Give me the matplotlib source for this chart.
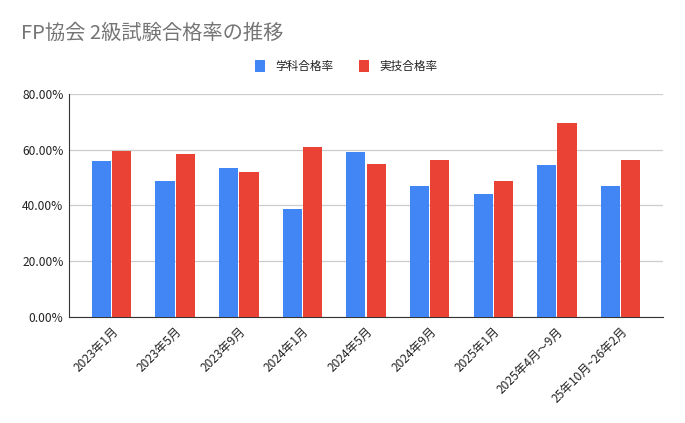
import numpy as np
import matplotlib
matplotlib.use("Agg")
import matplotlib.pyplot as plt
from matplotlib.ticker import FuncFormatter

plt.rcParams['font.family'] = ['Noto Sans CJK JP', 'DejaVu Sans']

# ── Data ──────────────────────────────────────────────────────────────────────
periods = ["2023年1月", "2023年5月", "2023年9月", "2024年1月", "2024年5月",
           "2024年9月", "2025年1月", "2025年4月～9月", "25年10月~26年2月"]
gakka = [56.0, 48.8, 53.5, 38.7, 59.2, 47.0, 44.1, 54.5, 47.0]   # 学科合格率 (%)
jitsugi = [59.6, 58.5, 52.0, 61.0, 54.9, 56.3, 48.8, 69.6, 56.3]  # 実技合格率 (%)
series_names = ["学科合格率", "実技合格率"]

BLUE = "#4285f4"
RED = "#ea4335"

fig = plt.figure(figsize=(6.85, 4.23), dpi=100)
ax = fig.add_axes([0.1007, 0.2506, 0.8673, 0.5272])

x = np.arange(len(periods))
w = 0.30
ax.bar(x - 0.16, gakka, width=w, color=BLUE, label=series_names[0], zorder=3)
ax.bar(x + 0.16, jitsugi, width=w, color=RED, label=series_names[1], zorder=3)

ax.set_xlim(-0.67, len(periods) - 1 + 0.67)
ax.set_ylim(0, 80)
ax.set_yticks([0, 20, 40, 60, 80])
ax.yaxis.set_major_formatter(FuncFormatter(lambda v, _: f"{v:.2f}%"))
ax.grid(axis="y", color="#cccccc", linewidth=0.9, zorder=0)

ax.set_xticks(x)
ax.set_xticklabels(periods, rotation=45, ha="right", rotation_mode="anchor",
                   fontsize=8.6, color="#222222")
ax.tick_params(axis="y", labelsize=8.6, labelcolor="#222222", length=0, pad=4)
ax.tick_params(axis="x", length=0, pad=6)

for side in ("top", "right"):
    ax.spines[side].set_visible(False)
ax.spines["left"].set_color("#333333")
ax.spines["bottom"].set_color("#333333")

fig.text(0.031, 0.922, "FP協会 2級試験合格率の推移", fontsize=14.6,
         color="#757575", va="center", ha="left")

leg = fig.legend(loc="center", bbox_to_anchor=(0.506, 0.843), ncol=2, frameon=False,
                 fontsize=8.4, handlelength=0.85, handleheight=1.1,
                 handletextpad=0.9, columnspacing=2.2)
for t in leg.get_texts():
    t.set_color("#222222")

fig.savefig("out.png", dpi=100, facecolor="white")
